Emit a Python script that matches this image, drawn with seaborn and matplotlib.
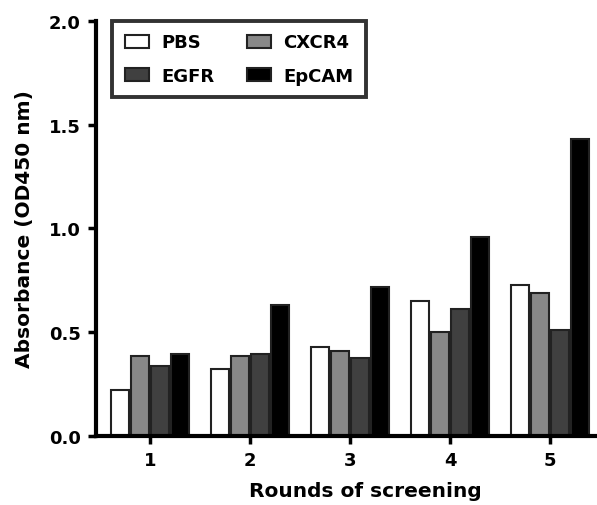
import matplotlib
matplotlib.use("Agg")
import matplotlib.pyplot as plt
import seaborn as sns
import pandas as pd

rounds = ["1", "2", "3", "4", "5"]
groups = ["PBS", "CXCR4", "EGFR", "EpCAM"]
pbs = [0.22, 0.325, 0.43, 0.65, 0.73]
cxcr4 = [0.385, 0.385, 0.41, 0.50, 0.69]
egfr = [0.34, 0.395, 0.375, 0.61, 0.51]
epcam = [0.395, 0.63, 0.72, 0.96, 1.43]
colors = ["#ffffff", "#888888", "#404040", "#000000"]

rows = []
for g, vals in zip(groups, [pbs, cxcr4, egfr, epcam]):
    for r, v in zip(rounds, vals):
        rows.append({"Round": r, "Group": g, "Value": v})
df = pd.DataFrame(rows)

sns.set_style("ticks")
plt.rcParams["font.family"] = ["DejaVu Sans"]
plt.rcParams["font.weight"] = "bold"
plt.rcParams["text.color"] = "black"
plt.rcParams["axes.labelcolor"] = "black"
plt.rcParams["xtick.color"] = "black"
plt.rcParams["ytick.color"] = "black"

fig = plt.figure(figsize=(5.97, 5.06), dpi=100)
ax = fig.add_axes([0.161, 0.136, 0.839, 0.821])
sns.barplot(data=df, x="Round", y="Value", hue="Group", order=rounds,
            hue_order=groups, palette=colors, width=0.8, gap=0.1,
            edgecolor="#222222", linewidth=1.5, ax=ax)

ax.set_ylim(0, 2.0)
ax.set_xlim(-0.54, 4.47)
ax.set_yticks([0.0, 0.5, 1.0, 1.5, 2.0])
ax.set_yticklabels(["0.0", "0.5", "1.0", "1.5", "2.0"])
ax.set_xlabel("Rounds of screening", fontsize=14.5, fontweight="bold")
ax.xaxis.set_label_coords(0.537, -0.108)
ax.set_ylabel("Absorbance (OD450 nm)", fontsize=14.5, fontweight="bold", labelpad=11)
ax.tick_params(axis="both", labelsize=13, width=2.5, length=6, pad=5, direction="out",
               color="black", labelcolor="black")
for lab in ax.get_xticklabels() + ax.get_yticklabels():
    lab.set_fontweight("bold")

sns.despine(ax=ax, top=True, right=True)
for s in ("left", "bottom"):
    ax.spines[s].set_linewidth(3)
    ax.spines[s].set_color("black")

handles, labels = ax.get_legend_handles_labels()
hmap = dict(zip(labels, handles))
order = ["PBS", "EGFR", "CXCR4", "EpCAM"]  # column-major fill -> rows: PBS/CXCR4, EGFR/EpCAM
ax.legend([hmap[k] for k in order], order, ncol=2, loc="upper left",
          bbox_to_anchor=(0.032, 1.0), borderaxespad=0.0,
          frameon=True, fancybox=False, prop={"weight": "bold", "size": 13},
          handlelength=1.33, handleheight=0.72, columnspacing=1.75, borderpad=0.7,
          labelspacing=0.85, handletextpad=0.72)
leg = ax.get_legend()
leg.get_frame().set_edgecolor("black")
leg.get_frame().set_linewidth(2.8)
for t in leg.get_texts():
    t.set_color("black")

fig.savefig("out.png", dpi=100)
